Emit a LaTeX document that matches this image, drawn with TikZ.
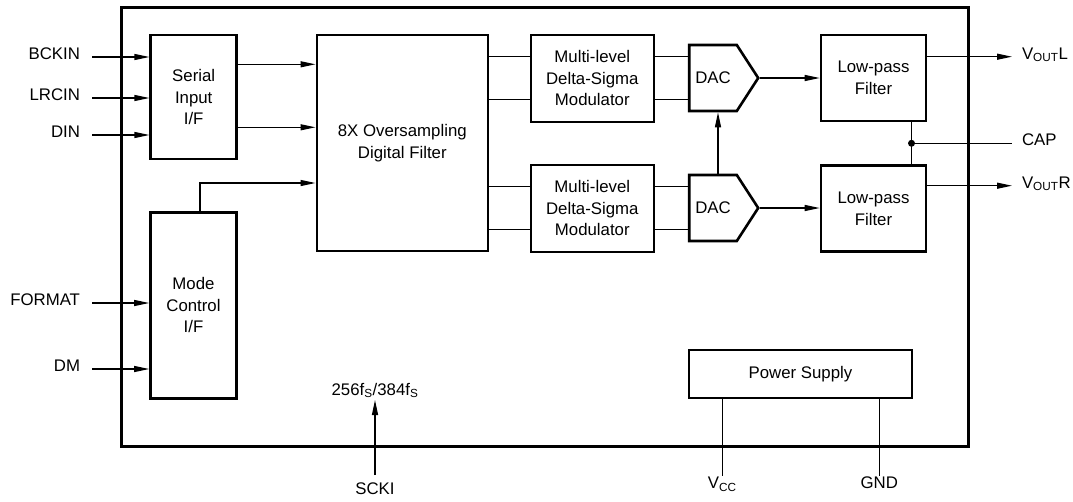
\documentclass[tikz,border=0pt]{standalone}
\usepackage{fontspec}
\setmainfont{Liberation Sans}
\usetikzlibrary{arrows.meta,shapes.symbols}

\begin{document}
\begin{tikzpicture}[x=1pt,y=-1pt,font=\fontsize{16.8}{21.5}\selectfont,>={Triangle[length=15pt,width=6pt]},line width=1.2pt]
  \tikzstyle{block}=[draw,line width=2.6pt,align=center,inner sep=2pt]
  \tikzstyle{dacbox}=[draw,line width=2.6pt,signal,signal to=east,signal pointer angle=114,minimum width=69pt,minimum height=66pt,inner sep=0pt]
  \tikzstyle{insig}=[inner sep=0pt,outer xsep=12pt,anchor=mid east]
  \tikzstyle{outsig}=[inner sep=0pt,outer xsep=10pt,anchor=mid west]
  \useasboundingbox (0,0) rectangle (1073,501);
  \node[draw,line width=3pt,minimum width=847pt,minimum height=439pt] (chip) at (544.5,226.5) {};
  \node[block,minimum width=86pt,minimum height=124pt] (ser) at (193.7,97) {Serial\\Input\\I/F};
  \node[block,minimum width=86pt,minimum height=186pt] (mode) at (193.5,305.3) {Mode\\Control\\I/F};
  \node[block,minimum width=171pt,minimum height=216pt] (filt) at (402.3,143) {8X Oversampling\\Digital Filter};
  \node[block,minimum width=123pt,minimum height=87pt] (mod1) at (592.3,78.3) {Multi-level\\Delta-Sigma\\Modulator};
  \node[block,minimum width=123pt,minimum height=87pt] (mod2) at (592.3,208.3) {Multi-level\\Delta-Sigma\\Modulator};
  \node[dacbox] (dac1) at (713,78) {DAC};
  \node[dacbox] (dac2) at (713,208) {DAC};
  \node[block,minimum width=105pt,minimum height=86pt] (lp1) at (873.5,78) {Low-pass\\Filter};
  \node[block,minimum width=105pt,minimum height=86pt] (lp2) at (873.5,208.6) {Low-pass\\Filter};
  \node[block,minimum width=223pt,minimum height=48pt] (pwr) at (800.5,374) {Power Supply};

  \foreach \y/\name/\txt in {57/bckin/BCKIN,98/lrcin/LRCIN,135/din/DIN,303/format/FORMAT,369/dm/DM}
    \node[insig] (\name) at (92,\y) {\txt};
  \foreach \name/\blk in {bckin/ser,lrcin/ser,din/ser,format/mode,dm/mode}
    \draw[->] (\name.mid east) -- (\blk.west |- \name.mid east);

  \coordinate (s1) at ([yshift=32.7pt]ser.east);
  \coordinate (s2) at ([yshift=-30.3pt]ser.east);
  \draw[->] (s1) -- (filt.west |- s1);
  \draw[->] (s2) -- (filt.west |- s2);
  \draw[->] ([xshift=6.5pt]mode.north) |- ([yshift=-40pt]filt.west);

  \foreach \m in {1,2}{
    \foreach \s/\p in {21.5/a,-21.5/b}{
      \coordinate (in\m\p) at ([yshift=\s pt]mod\m.west);
      \coordinate (out\m\p) at ([yshift=\s pt]mod\m.east);
      \draw (filt.east |- in\m\p) -- (in\m\p);
      \draw (out\m\p) -- (dac\m.west |- out\m\p);
    }
    \draw[->] (dac\m.east) -- (lp\m.west |- dac\m.east);
  }
  \coordinate (dv) at ([xshift=5pt]dac2.north);
  \draw[->] (dv) -- (dv |- dac1.south);

  \node[outsig] (voutl) at (1012,56.7) {V\textsubscript{OUT}L};
  \node[outsig] (cap) at (1012,143.3) {CAP};
  \node[outsig] (voutr) at (1012,185.7) {V\textsubscript{OUT}R};
  \draw[->] (lp1.east |- voutl.mid west) -- (voutl.mid west);
  \draw[->] (lp2.east |- voutr.mid west) -- (voutr.mid west);
  \coordinate (capx) at ([xshift=38pt]lp1.south);
  \draw (capx) -- (capx |- lp2.north);
  \draw (capx |- cap.mid west) -- (cap.mid west);
  \fill (capx |- cap.mid west) circle (3.5pt);

  \node[anchor=north,inner sep=0pt,outer ysep=8pt] (scki) at (375,475) {SCKI};
  \node[anchor=south,inner sep=0pt,outer ysep=2pt] (clk) at (375,400) {256f\textsubscript{S}/384f\textsubscript{S}};
  \draw[->] (scki.north) -- (clk.south);

  \node[anchor=north,inner sep=0pt,outer ysep=1pt] (vcc) at (722.3,476) {V\textsubscript{CC}};
  \node[anchor=north,inner sep=0pt,outer ysep=1pt] (gnd) at (879.3,476) {GND};
  \draw (vcc.north |- pwr.south) -- (vcc.north);
  \draw (gnd.north |- pwr.south) -- (gnd.north);
\end{tikzpicture}
\end{document}
